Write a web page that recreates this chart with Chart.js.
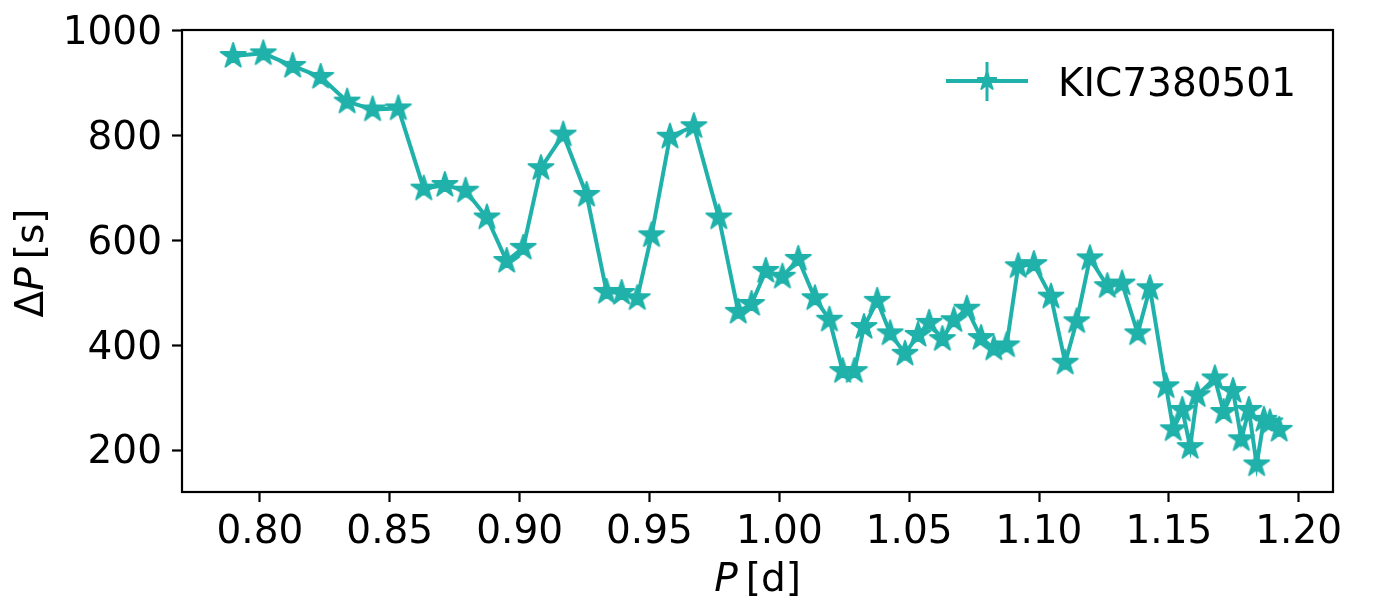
<!DOCTYPE html>
<html>
<head>
<meta charset="utf-8">
<script src="https://cdn.jsdelivr.net/npm/chart.js@4.4.1/dist/chart.umd.min.js"></script>
<style>
html,body{margin:0;padding:0;background:#ffffff;}
#wrap{width:1400px;height:600px;position:relative;}
canvas{display:block;}
</style>
</head>
<body>
<div id="wrap"><canvas id="chart" width="1400" height="600"></canvas></div>
<script>
// ---- data ----
const periods = [0.7897,0.8013,0.8126,0.8234,0.8336,0.8434,0.8533,0.8631,0.8712,0.8792,
  0.8874,0.8950,0.9014,0.9082,0.9168,0.9258,0.9335,0.9393,0.9453,0.9508,
  0.9579,0.9671,0.9767,0.9842,0.9893,0.9948,1.0012,1.0073,1.0137,1.0193,
  1.0244,1.0289,1.0326,1.0377,1.0427,1.0484,1.0534,1.0577,1.0628,1.0672,
  1.0722,1.0777,1.0826,1.0875,1.0920,1.0980,1.1046,1.1101,1.1145,1.1196,
  1.1263,1.1320,1.1380,1.1427,1.1489,1.1517,1.1552,1.1582,1.1609,1.1677,
  1.1711,1.1747,1.1779,1.1808,1.1838,1.1866,1.1889,1.1925];
const deltaP = [952,957,933,912,865,850,852,699,706,695,
  644,561,586,738,802,687,502,500,490,610,
  798,818,644,464,479,542,531,565,490,449,
  351,351,435,485,423,384,420,443,412,448,
  470,414,394,400,551,555,493,367,446,566,
  513,518,423,509,322,240,277,206,305,337,
  273,313,221,277,173,258,253,239];
const xTicks = [0.80,0.85,0.90,0.95,1.00,1.05,1.10,1.15,1.20];
const yTicks = [200,400,600,800,1000];
const seriesLabel = 'KIC7380501';
const xRange = [0.770, 1.2132];
const yRange = [120.4, 1001.5];

// ---- styling ----
const COLOR = '#20B2AA';
const FONT = '"DejaVu Sans", "Liberation Sans", sans-serif';
const FS = 39;

function makeStar(r, size) {
  const c = document.createElement('canvas');
  c.width = size; c.height = size;
  const g = c.getContext('2d');
  const cx = size / 2, cy = size / 2, ri = r * 0.381966;
  g.beginPath();
  for (let i = 0; i < 10; i++) {
    const a = -Math.PI / 2 + i * Math.PI / 5;
    const rad = (i % 2 === 0) ? r : ri;
    const px = cx + rad * Math.cos(a), py = cy + rad * Math.sin(a);
    if (i === 0) g.moveTo(px, py); else g.lineTo(px, py);
  }
  g.closePath();
  g.fillStyle = COLOR; g.fill();
  g.lineWidth = 1.8; g.lineJoin = 'round'; g.strokeStyle = COLOR; g.stroke();
  return c;
}
const starImg = makeStar(13.2, 34);
const legendStar = makeStar(9.8, 26);

const decor = {
  id: 'decor',
  afterDatasetsDraw(chart) {
    const {ctx, chartArea: a} = chart;
    ctx.save();
    ctx.strokeStyle = '#000';
    ctx.lineWidth = 2.2;
    ctx.strokeRect(a.left, a.top, a.right - a.left, a.bottom - a.top);
    ctx.restore();
  },
  afterDraw(chart) {
    const ctx = chart.ctx;
    ctx.save();
    ctx.fillStyle = '#000';
    ctx.textBaseline = 'alphabetic';
    ctx.textAlign = 'left';
    // x-axis title: italic P + [d]
    const italic = 'italic ' + FS + 'px ' + FONT;
    const normal = FS + 'px ' + FONT;
    ctx.font = italic; const wP = ctx.measureText('P').width;
    ctx.font = normal; const wD = ctx.measureText('[d]').width;
    const gap = 8;
    const total = wP + gap + wD;
    const cx = 757.5, by = 591;
    let x0 = cx - total / 2;
    ctx.font = italic; ctx.fillText('P', x0, by);
    ctx.font = normal; ctx.fillText('[d]', x0 + wP + gap, by);
    // y-axis title: ΔP [s], rotated
    ctx.save();
    ctx.translate(43, 263);
    ctx.rotate(-Math.PI / 2);
    ctx.font = normal; const wDelta = ctx.measureText('\u0394').width; const wS = ctx.measureText('[s]').width;
    ctx.font = italic; const wP2 = ctx.measureText('P').width;
    const tot2 = wDelta + wP2 + gap + wS;
    let s = -tot2 / 2;
    ctx.font = normal; ctx.fillText('\u0394', s, 0);
    ctx.font = italic; ctx.fillText('P', s + wDelta, 0);
    ctx.font = normal; ctx.fillText('[s]', s + wDelta + wP2 + gap, 0);
    ctx.restore();
    // legend
    ctx.strokeStyle = COLOR;
    ctx.lineWidth = 4;
    ctx.beginPath(); ctx.moveTo(946, 81); ctx.lineTo(1028, 81); ctx.stroke();
    ctx.lineWidth = 3;
    ctx.beginPath(); ctx.moveTo(987, 62); ctx.lineTo(987, 101); ctx.stroke();
    ctx.drawImage(legendStar, 987 - legendStar.width / 2, 81 - legendStar.height / 2);
    ctx.fillStyle = '#000';
    ctx.font = normal;
    ctx.fillText(seriesLabel, 1058, 95.5);
    ctx.restore();
  }
};

const tickFont = {family: FONT, size: FS, lineHeight: 1};

new Chart(document.getElementById('chart'), {
  type: 'line',
  data: {
    datasets: [{
      label: seriesLabel,
      data: periods.map((p, i) => ({x: p, y: deltaP[i]})),
      borderColor: COLOR,
      backgroundColor: COLOR,
      borderWidth: 4,
      tension: 0,
      fill: false,
      pointStyle: starImg,
      pointRadius: 14,
      pointHoverRadius: 14,
      clip: 20
    }]
  },
  plugins: [decor],
  options: {
    responsive: false,
    devicePixelRatio: 1,
    animation: false,
    events: [],
    layout: {padding: {left: 0, top: 30, right: 67, bottom: 0}},
    plugins: {legend: {display: false}, tooltip: {enabled: false}, title: {display: false}},
    scales: {
      x: {
        type: 'linear',
        min: xRange[0], max: xRange[1],
        border: {display: false},
        grid: {display: true, drawOnChartArea: false, drawTicks: true, tickLength: 10, tickWidth: 2.2, tickColor: '#000'},
        ticks: {font: tickFont, color: '#000', padding: 11, maxRotation: 0, minRotation: 0, autoSkip: false,
          callback: v => Number(v).toFixed(2)},
        afterBuildTicks: s => { s.ticks = xTicks.map(v => ({value: v})); },
        afterFit: s => { s.height = 108; s.paddingLeft = 0; s.paddingRight = 0; s.paddingTop = 0; s.paddingBottom = 0; }
      },
      y: {
        type: 'linear',
        min: yRange[0], max: yRange[1],
        border: {display: false},
        grid: {display: true, drawOnChartArea: false, drawTicks: true, tickLength: 10, tickWidth: 2.2, tickColor: '#000'},
        ticks: {font: tickFont, color: '#000', padding: 10, labelOffset: 3, autoSkip: false,
          callback: v => String(v)},
        afterBuildTicks: s => { s.ticks = yTicks.map(v => ({value: v})); },
        afterFit: s => { s.width = 182; s.paddingLeft = 0; s.paddingRight = 0; s.paddingTop = 0; s.paddingBottom = 0; }
      }
    }
  }
});
</script>
</body>
</html>
